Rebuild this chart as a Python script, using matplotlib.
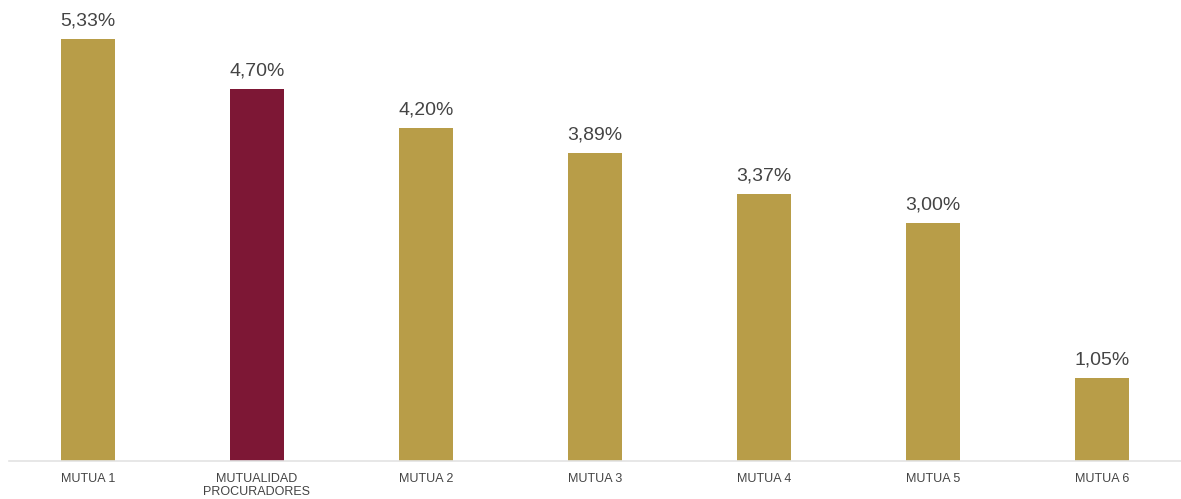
import matplotlib.pyplot as plt
import numpy as np

categories = ["MUTUA 1", "MUTUALIDAD\nPROCURADORES", "MUTUA 2", "MUTUA 3",
              "MUTUA 4", "MUTUA 5", "MUTUA 6"]
values = [5.33, 4.70, 4.20, 3.89, 3.37, 3.00, 1.05]
highlight = "MUTUALIDAD\nPROCURADORES"

gold = "#B89D48"
maroon = "#7D1735"
text_col = "#444444"

plt.rcParams["font.family"] = ["Liberation Sans", "DejaVu Sans"]

fig = plt.figure(figsize=(11.81, 4.99), dpi=100)
# each category slot is ~169 px wide, first slot starts at x ~3.5 px
ax = fig.add_axes([3.5 / 1181, 38 / 499, 1183 / 1181, 461 / 499])

x = np.arange(len(categories))
colors = [maroon if c == highlight else gold for c in categories]
ax.bar(x, values, width=0.314, color=colors, zorder=2)

for xi, v in zip(x, values):
    ax.annotate(f"{v:.2f}%".replace(".", ","), (xi, v), xytext=(0, 7),
                textcoords="offset points", ha="center", va="bottom",
                fontsize=14, color=text_col)

ax.set_xlim(-0.5, len(categories) - 0.5)
ax.set_ylim(0, 461 / 79.2)
ax.set_xticks(x)
ax.set_xticklabels(categories, fontsize=9, color=text_col, linespacing=1.1)
ax.tick_params(axis="x", length=0, pad=9)
ax.set_yticks([])
for s in ["top", "right", "left"]:
    ax.spines[s].set_visible(False)
ax.spines["bottom"].set_color("#E3E3E3")
ax.spines["bottom"].set_linewidth(1.2)
ax.spines["bottom"].set_bounds(-0.47, 6.5)

fig.savefig("out.png", dpi=100)
